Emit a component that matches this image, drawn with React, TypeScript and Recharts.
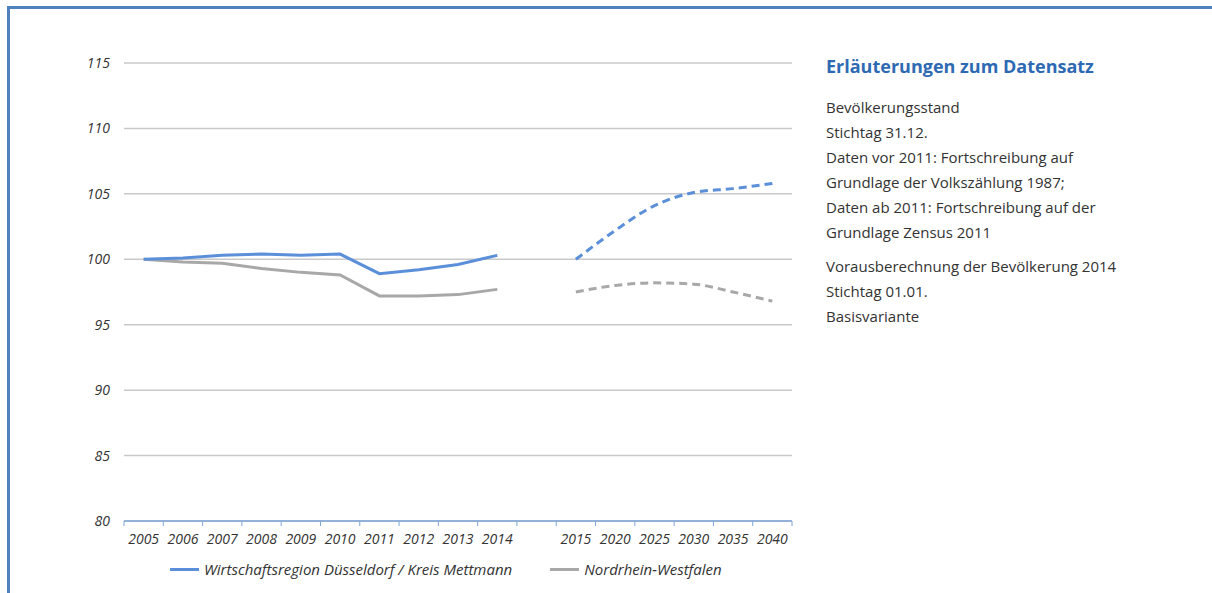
import React from 'react';
import { LineChart, Line, XAxis, YAxis, CartesianGrid } from 'recharts';

const years = ['2005', '2006', '2007', '2008', '2009', '2010', '2011', '2012', '2013', '2014', '', '2015', '2020', '2025', '2030', '2035', '2040'];
const duesseldorf = [100, 100.1, 100.3, 100.4, 100.3, 100.4, 98.9, 99.2, 99.6, 100.3, null, null, null, null, null, null, null];
const nrw = [100, 99.8, 99.7, 99.3, 99.0, 98.8, 97.2, 97.2, 97.3, 97.7, null, null, null, null, null, null, null];
const duesseldorfProj = [null, null, null, null, null, null, null, null, null, null, null, 100, 102.2, 104.1, 105.1, 105.4, 105.8];
const nrwProj = [null, null, null, null, null, null, null, null, null, null, null, 97.5, 98.0, 98.2, 98.1, 97.5, 96.8];
const yTicks = [80, 85, 90, 95, 100, 105, 110, 115];

const data = years.map((y, i) => ({
  year: y,
  dus: duesseldorf[i],
  nrw: nrw[i],
  dusP: duesseldorfProj[i],
  nrwP: nrwProj[i],
}));

const BLUE = '#5B8FD9';
const GRAY = '#A8A8A8';
const AXIS = '#7EA6DA';
const FONT = '"Open Sans", sans-serif';

const XTick = (props: any) => {
  const { x, y, payload, index } = props;
  const half = payload.offset || 0;
  const last = index === years.length - 1;
  return (
    <g>
      <line x1={x - half} x2={x - half} y1={y - 8} y2={y - 3} stroke={AXIS} strokeWidth={1} />
      {last && <line x1={x + half} x2={x + half} y1={y - 8} y2={y - 3} stroke={AXIS} strokeWidth={1} />}
      <text x={x} y={y + 15} textAnchor="middle" fontStyle="italic" fontSize={14} fill="#333" fontFamily={FONT}>
        {payload.value}
      </text>
    </g>
  );
};

const notes1 = [
  'Bevölkerungsstand',
  'Stichtag 31.12.',
  'Daten vor 2011: Fortschreibung auf',
  'Grundlage der Volkszählung 1987;',
  'Daten ab 2011: Fortschreibung auf der',
  'Grundlage Zensus 2011',
];
const notes2 = ['Vorausberechnung der Bevölkerung 2014', 'Stichtag 01.01.', 'Basisvariante'];

export default function App() {
  return (
    <div style={{ position: 'absolute', left: 0, top: 0, width: 1212, height: 593, background: '#fff', overflow: 'hidden', fontFamily: FONT }}>
      <div style={{ position: 'absolute', left: 7, top: 6, right: 0, bottom: 0, borderTop: '3px solid #4F81BD', borderLeft: '3px solid #4F81BD' }} />
      <div style={{ position: 'absolute', left: 0, top: 0 }}>
        <LineChart width={800} height={593} data={data} margin={{ top: 63, right: 8, left: 0, bottom: 42 }}>
          <CartesianGrid vertical={false} stroke="#C9C9C9" strokeWidth={1.5} />
          <XAxis
            dataKey="year"
            scale="band"
            interval={0}
            height={30}
            axisLine={{ stroke: AXIS, strokeWidth: 1.5 }}
            tickLine={false}
            tick={<XTick />}
          />
          <YAxis
            width={124}
            domain={[80, 115]}
            ticks={yTicks}
            axisLine={false}
            tickLine={false}
            tickMargin={8}
            tick={{ fill: '#333', fontSize: 14, fontStyle: 'italic', fontFamily: FONT }}
          />
          <Line type="linear" dataKey="nrw" stroke={GRAY} strokeWidth={3} dot={false} isAnimationActive={false} />
          <Line type="linear" dataKey="dus" stroke={BLUE} strokeWidth={3} dot={false} isAnimationActive={false} />
          <Line type="monotone" dataKey="nrwP" stroke={GRAY} strokeWidth={3} strokeDasharray="8 5" dot={false} isAnimationActive={false} />
          <Line type="monotone" dataKey="dusP" stroke={BLUE} strokeWidth={3} strokeDasharray="8 5" dot={false} isAnimationActive={false} />
        </LineChart>
      </div>
      <div style={{ position: 'absolute', left: 170, top: 559, display: 'flex', alignItems: 'center', fontStyle: 'italic', fontSize: 15, color: '#333' }}>
        <span style={{ display: 'inline-block', width: 29, height: 3, background: BLUE, marginRight: 5 }} />
        <span>Wirtschaftsregion Düsseldorf / Kreis Mettmann</span>
        <span style={{ display: 'inline-block', width: 29, height: 3, background: GRAY, marginLeft: 38, marginRight: 5 }} />
        <span>Nordrhein-Westfalen</span>
      </div>
      <div style={{ position: 'absolute', left: 826, top: 54, color: '#2E6AB3', fontWeight: 700, fontSize: 18 }}>
        Erläuterungen zum Datensatz
      </div>
      <div style={{ position: 'absolute', left: 826, top: 95, color: '#333', fontSize: 15, lineHeight: '25px' }}>
        {notes1.map((t) => <div key={t}>{t}</div>)}
        <div style={{ height: 9 }} />
        {notes2.map((t) => <div key={t}>{t}</div>)}
      </div>
    </div>
  );
}
